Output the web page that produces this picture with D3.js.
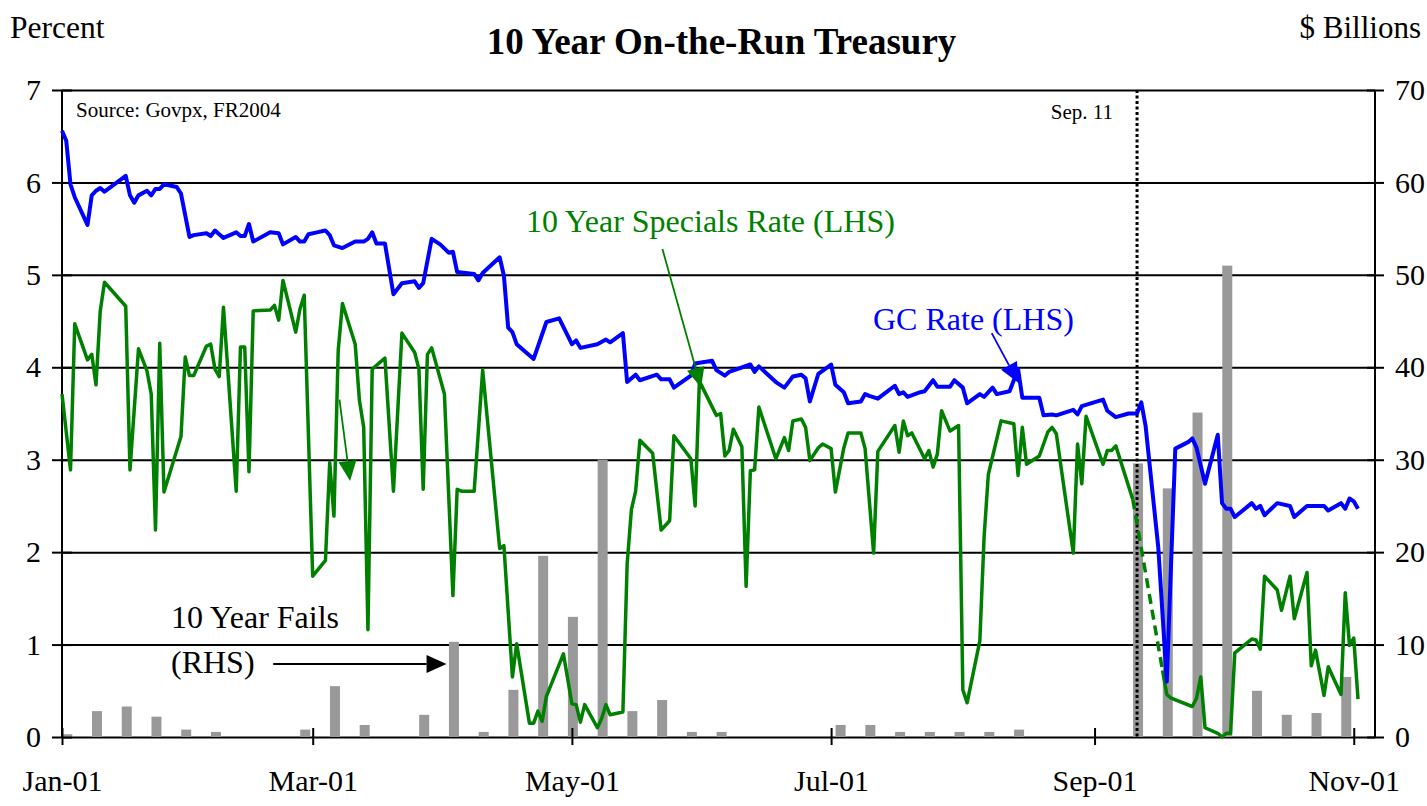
<!DOCTYPE html>
<html>
<head>
<meta charset="utf-8">
<script src="https://cdn.jsdelivr.net/npm/d3@7"></script>
<style>
  body { margin: 0; background: #fff; }
  svg text { font-family: "Liberation Serif", "Times New Roman", serif; }
</style>
</head>
<body>
<svg id="chart" width="1427" height="806"></svg>
<script>
// GC rate (LHS), percent
const gcDates = [
  "01-01","01-02","01-03","01-04","01-07","01-08","01-09","01-10","01-11","01-16",
  "01-17","01-18","01-19","01-21","01-22","01-23","01-24","01-25","01-28","01-29",
  "01-31","02-01","02-04","02-05","02-06","02-08","02-11","02-12","02-13","02-14",
  "02-15","02-19","02-21","02-22","02-25","02-26","02-27","02-28","03-02","03-04",
  "03-05","03-06","03-08","03-11","03-13","03-14","03-15","03-16","03-18","03-20",
  "03-22","03-25","03-26","03-27","03-29","03-31","04-02","04-03","04-04","04-08",
  "04-09","04-10","04-14","04-15","04-16","04-17","04-18","04-22","04-25","04-28",
  "05-01","05-02","05-03","05-07","05-09","05-10","05-13","05-14","05-16","05-17",
  "05-21","05-22","05-24","05-25","05-29","05-30","06-03","06-04","06-06","06-07",
  "06-12","06-13","06-14","06-18","06-20","06-22","06-24","06-25","06-26","06-28",
  "07-01","07-02","07-04","07-05","07-08","07-09","07-10","07-12","07-16","07-17",
  "07-18","07-19","07-22","07-23","07-25","07-26","07-29","07-30","08-01","08-02",
  "08-05","08-06","08-08","08-09","08-12","08-14","08-15","08-19","08-20","08-22",
  "08-23","08-27","08-28","08-29","09-03","09-04","09-06","09-09","09-11","09-12",
  "09-13","09-16","09-18","09-20","09-23","09-24","09-25","09-27","09-30","10-01",
  "10-02","10-03","10-04","10-08","10-09","10-10","10-11","10-14","10-17","10-18",
  "10-21","10-25","10-26","10-29","10-30","10-31","11-01","11-02"
];
const gcRate = [
  6.56,6.45,5.98,5.84,5.54,5.86,5.91,5.94,5.90,6.07,
  5.86,5.78,5.86,5.91,5.86,5.93,5.93,5.98,5.95,5.88,
  5.41,5.43,5.45,5.42,5.48,5.40,5.46,5.42,5.42,5.55,
  5.36,5.46,5.45,5.33,5.41,5.36,5.36,5.44,5.46,5.48,
  5.43,5.32,5.29,5.36,5.36,5.39,5.46,5.34,5.34,4.79,
  4.91,4.93,4.86,4.91,5.39,5.33,5.24,5.25,5.03,5.01,
  4.94,5.02,5.19,4.99,4.43,4.38,4.25,4.09,4.49,4.53,
  4.25,4.29,4.21,4.25,4.30,4.27,4.37,3.84,3.92,3.86,
  3.92,3.87,3.87,3.78,3.91,4.04,4.07,3.97,3.91,3.95,
  4.03,3.95,4.01,3.84,3.78,3.90,3.92,3.88,3.63,3.93,
  4.03,3.81,3.73,3.61,3.63,3.71,3.69,3.66,3.80,3.71,
  3.73,3.68,3.73,3.74,3.86,3.79,3.79,3.86,3.78,3.61,
  3.71,3.68,3.78,3.71,3.74,3.98,3.67,3.67,3.48,3.49,
  3.48,3.54,3.49,3.58,3.65,3.53,3.46,3.50,3.50,3.62,
  3.37,2.05,0.60,3.12,3.19,3.23,3.13,2.74,3.27,2.53,
  2.47,2.47,2.38,2.53,2.47,2.50,2.40,2.53,2.50,2.38,
  2.50,2.50,2.45,2.53,2.47,2.58,2.55,2.47
];

// 10 year specials rate (LHS), percent; null = no data (drawn dashed)
const specDates = [
  "01-01","01-03","01-04","01-07","01-08","01-09","01-10","01-11","01-16","01-17",
  "01-19","01-21","01-22","01-23","01-24","01-25","01-29","01-30","01-31","02-01",
  "02-04","02-05","02-06","02-07","02-08","02-11","02-12","02-13","02-14","02-15",
  "02-19","02-20","02-21","02-22","02-25","02-26","02-27","03-01","03-04","03-05",
  "03-06","03-07","03-08","03-11","03-12","03-13","03-14","03-15","03-18","03-20",
  "03-22","03-25","03-26","03-27","03-28","03-29","04-01","04-03","04-04","04-05",
  "04-08","04-10","04-14","04-15","04-17","04-18","04-21","04-22","04-23","04-24",
  "04-25","04-29","05-01","05-02","05-03","05-04","05-07","05-08","05-09","05-10",
  "05-13","05-14","05-15","05-16","05-17","05-20","05-22","05-24","05-25","05-29",
  "05-30","05-31","06-04","06-05","06-06","06-07","06-08","06-10","06-11","06-12",
  "06-13","06-14","06-18","06-20","06-21","06-22","06-24","06-25","06-26","06-28",
  "06-29","07-01","07-02","07-04","07-05","07-08","07-09","07-11","07-12","07-16",
  "07-17","07-18","07-19","07-20","07-23","07-24","07-25","07-26","07-27","07-29",
  "07-31","08-01","08-02","08-05","08-06","08-07","08-10","08-13","08-14","08-15",
  "08-16","08-19","08-21","08-22","08-23","08-27","08-28","08-29","08-30","09-03",
  "09-04","09-05","09-06","09-10","09-14","09-17","09-18","09-19","09-24","09-25",
  "09-26","09-27","09-30","10-01","10-02","10-03","10-04","10-08","10-09","10-10",
  "10-11","10-14","10-15","10-17","10-18","10-21","10-22","10-23","10-25","10-26",
  "10-29","10-30","10-31","11-01","11-02"
];
const specRate = [
  3.71,2.89,4.47,4.08,4.14,3.81,4.61,4.92,4.66,2.89,
  4.20,3.96,3.71,2.24,4.26,2.65,3.25,4.11,3.91,3.91,
  4.23,4.25,3.98,3.90,4.65,2.66,4.22,4.22,2.87,4.61,
  4.62,4.67,4.51,4.94,4.38,4.63,4.78,1.74,1.91,2.97,
  2.39,4.18,4.69,4.25,3.64,3.35,1.16,3.98,4.10,2.66,
  4.37,4.16,3.98,2.68,4.14,4.21,3.71,1.53,2.68,2.66,
  2.66,3.97,2.04,2.07,0.65,1.01,0.15,0.15,0.28,0.17,
  0.44,0.90,0.36,0.35,0.16,0.35,0.10,0.20,0.35,0.24,
  0.27,1.87,2.46,2.66,3.21,3.07,2.24,2.34,3.26,3.01,
  2.50,3.85,3.48,3.50,3.04,3.10,3.33,3.14,1.63,2.88,
  2.89,3.57,3.01,3.24,3.10,3.42,3.44,3.35,2.99,3.13,
  3.17,3.12,2.65,3.13,3.29,3.29,3.12,1.99,3.09,3.37,
  3.08,3.42,3.26,3.29,3.01,3.10,2.92,3.06,3.53,3.31,
  3.37,0.51,0.37,1.04,2.16,2.84,3.42,3.39,2.83,3.35,
  2.95,3.04,3.30,3.35,3.28,1.99,3.17,2.74,3.47,2.95,
  3.10,3.10,3.15,2.57,null,0.72,0.46,0.42,0.33,0.42,
  0.65,0.10,0.04,0.00,0.04,0.04,0.91,1.06,1.05,0.95,
  1.74,1.59,1.37,1.74,1.28,1.78,0.77,0.94,0.45,0.76,
  0.46,1.56,0.99,1.07,0.41
];

// 10 year fails (RHS), $ billions, weekly
const failDates = [
  "01-02","01-09","01-16","01-23","01-30","02-06","02-13","02-20","02-27","03-06",
  "03-13","03-20","03-27","04-03","04-10","04-17","04-24","05-01","05-08","05-15",
  "05-22","05-29","06-05","06-12","06-19","06-26","07-03","07-10","07-17","07-24",
  "07-31","08-07","08-14","08-21","08-28","09-04","09-11","09-18","09-25","10-02",
  "10-09","10-16","10-23","10-30"
];
const fails = [
  0.3,2.8,3.3,2.2,0.8,0.55,0,0,0.8,5.5,
  1.3,0,2.4,10.3,0.55,5.1,19.6,13.0,30.0,2.8,
  4.0,0.55,0.55,0,0,0,1.3,1.3,0.55,0.55,
  0.55,0.55,0.8,0,0,0,29.6,26.9,35.1,51.0,
  5.0,2.4,2.6,6.5
];

const leftTicks = [0,1,2,3,4,5,6,7];
const rightTicks = [0,10,20,30,40,50,60,70];
const monthTicks = ["01-01","03-01","05-01","07-01","09-01","11-01"];
const eventDate = "09-11";

const plotL = 62, plotR = 1375, plotT = 90, plotB = 737;
const parse = s => d3.timeParse("%Y-%m-%d")("2001-" + s);
const dayOf = n => new Date(new Date(2001, 0, 1).getTime() + n * 864e5);

const x = d3.scaleTime().domain([new Date(2001, 0, 1), new Date(2001, 10, 6)]).range([plotL, plotR]);
const yL = d3.scaleLinear().domain([0, 7]).range([plotB, plotT]);
const yR = d3.scaleLinear().domain([0, 70]).range([plotB, plotT]);

const svg = d3.select("#chart");
const serif = '"Liberation Serif", "Times New Roman", serif';

// gridlines
svg.append("g")
  .attr("transform", `translate(${plotL},0)`)
  .call(d3.axisLeft(yL).tickValues(leftTicks).tickSize(-(plotR - plotL)).tickFormat(""))
  .call(g => g.select(".domain").remove())
  .selectAll("line").attr("stroke", "#000").attr("stroke-width", 2);

// fails bars
svg.append("g").selectAll("rect")
  .data(failDates.map((d, i) => ({ date: parse(d), v: fails[i] })))
  .enter().append("rect")
  .attr("x", d => x(d.date) - 4)
  .attr("width", 10)
  .attr("y", d => yR(d.v))
  .attr("height", d => yR(0) - yR(d.v))
  .attr("fill", "#999999");

// sep 11 marker
svg.append("line")
  .attr("x1", x(parse(eventDate))).attr("x2", x(parse(eventDate)))
  .attr("y1", yL(7)).attr("y2", yL(0))
  .attr("stroke", "#000").attr("stroke-width", 3).attr("stroke-dasharray", "3,2.5");

// axis lines
[plotL, plotR].forEach(px => {
  svg.append("line").attr("x1", px).attr("x2", px).attr("y1", plotT).attr("y2", plotB)
    .attr("stroke", "#000").attr("stroke-width", 2);
});

// left axis
svg.append("g")
  .attr("transform", `translate(${plotL + 10},0)`)
  .call(d3.axisLeft(yL).tickValues(leftTicks).tickSize(20).tickPadding(11).tickFormat(d3.format("d")))
  .call(g => g.select(".domain").remove())
  .call(g => g.selectAll("line").attr("stroke-width", 2))
  .attr("font-family", serif).attr("font-size", 30);

// right axis
svg.append("g")
  .attr("transform", `translate(${plotR - 8},0)`)
  .call(d3.axisRight(yR).tickValues(rightTicks).tickSize(17).tickPadding(11).tickFormat(d3.format("d")))
  .call(g => g.select(".domain").remove())
  .call(g => g.selectAll("line").attr("stroke-width", 2))
  .attr("font-family", serif).attr("font-size", 30);

// bottom axis
svg.append("g")
  .attr("transform", `translate(0,${plotB - 9})`)
  .call(d3.axisBottom(x).tickValues(monthTicks.map(parse)).tickSize(17).tickPadding(25).tickFormat(d3.timeFormat("%b-%y")))
  .call(g => g.select(".domain").remove())
  .call(g => g.selectAll("line").attr("stroke-width", 2))
  .attr("font-family", serif).attr("font-size", 30);

// lines
const line = d3.line().defined(d => d.v != null).x(d => x(d.date)).y(d => yL(d.v));
const specData = specDates.map((d, i) => ({ date: parse(d), v: specRate[i] }));
const gcData = gcDates.map((d, i) => ({ date: parse(d), v: gcRate[i] }));

svg.append("path").datum(specData).attr("d", line)
  .attr("fill", "none").attr("stroke", "#008000").attr("stroke-width", 3.5).attr("stroke-linejoin", "round");

// dashed across the missing stretch
specData.forEach((d, i) => {
  if (d.v == null) {
    svg.append("path").datum([specData[i - 1], specData[i + 1]]).attr("d", line)
      .attr("fill", "none").attr("stroke", "#008000").attr("stroke-width", 3.5)
      .attr("stroke-dasharray", "10,6");
  }
});

svg.append("path").datum(gcData).attr("d", line)
  .attr("fill", "none").attr("stroke", "#0000ff").attr("stroke-width", 4).attr("stroke-linejoin", "round");

// arrows: [day of year, LHS value]
function arrow(from, to, color, w) {
  const x1 = x(dayOf(from[0])), y1 = yL(from[1]);
  const x2 = x(dayOf(to[0])), y2 = yL(to[1]);
  const a = Math.atan2(y2 - y1, x2 - x1), L = 20, hw = 9;
  const bx = x2 - L * Math.cos(a), by = y2 - L * Math.sin(a);
  svg.append("line").attr("x1", x1).attr("y1", y1).attr("x2", bx).attr("y2", by)
    .attr("stroke", color).attr("stroke-width", w);
  svg.append("polygon")
    .attr("points", [[x2, y2], [bx + hw * Math.sin(a), by - hw * Math.cos(a)], [bx - hw * Math.sin(a), by + hw * Math.cos(a)]].join(" "))
    .attr("fill", color);
}
arrow([141.3, 5.28], [150.4, 3.78], "#008000", 1.8);
arrow([218.8, 4.37], [225.1, 3.83], "#0000ff", 1.8);
arrow([65.3, 3.65], [67.8, 2.77], "#008000", 1.8);
arrow([49.7, 0.79], [90.5, 0.79], "#000", 2);

// texts
function label(t, px, py, opts) {
  const o = Object.assign({ size: 30, anchor: "start", fill: "#000", weight: "normal" }, opts);
  svg.append("text").attr("x", px).attr("y", py).text(t)
    .attr("font-size", o.size).attr("text-anchor", o.anchor)
    .attr("fill", o.fill).attr("font-weight", o.weight);
}
label("10 Year On-the-Run Treasury", 721.5, 53.5, { size: 37, anchor: "middle", weight: "bold" });
label("Percent", 10, 38, { size: 31.5 });
label("$ Billions", 1421, 38, { size: 31, anchor: "end" });
label("Source: Govpx, FR2004", 76, 117, { size: 21 });
label("Sep. 11", 1113, 119, { size: 21, anchor: "end" });
label("10 Year Specials Rate (LHS)", 526, 232, { size: 32, fill: "#008000" });
label("GC Rate (LHS)", 873, 330, { size: 32, fill: "#0000ff" });
label("10 Year Fails", 171, 628, { size: 32 });
label("(RHS)", 171, 673, { size: 32 });
</script>
</body>
</html>
